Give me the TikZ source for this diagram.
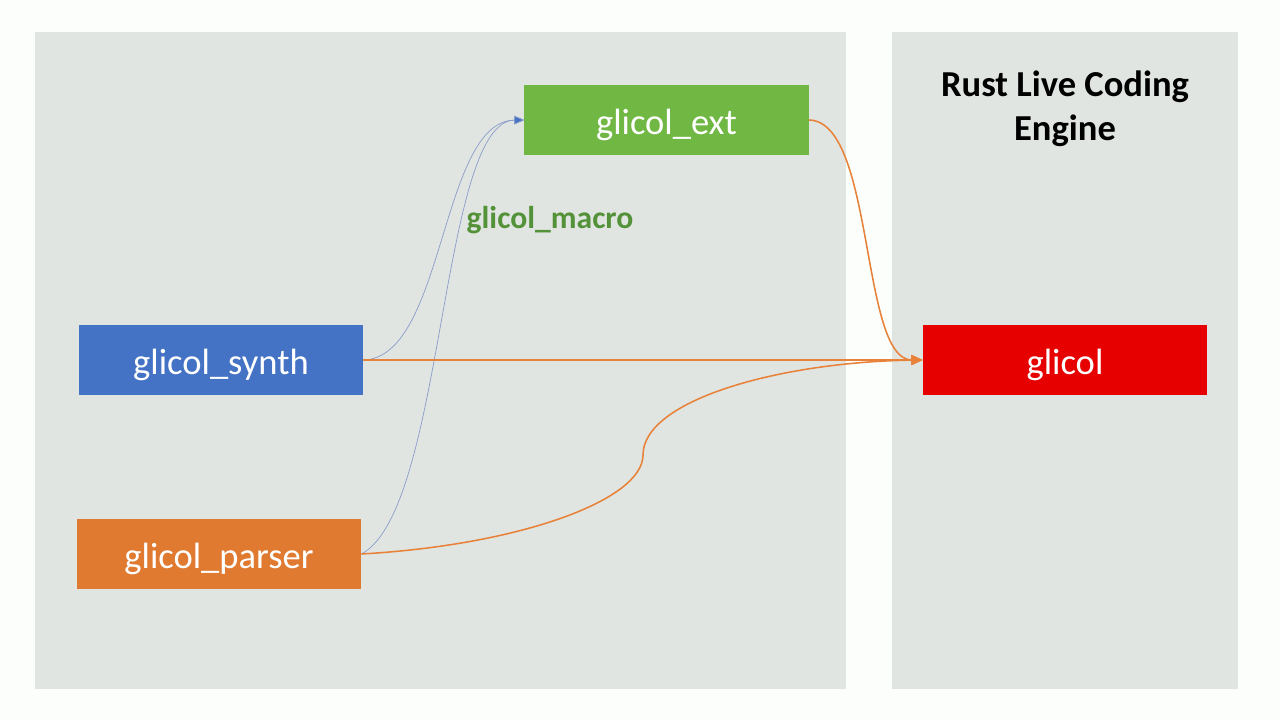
\documentclass[tikz,border=0pt]{standalone}
\usepackage{fontspec}
\setmainfont{Carlito}
\usetikzlibrary{shapes,arrows,arrows.meta,positioning,calc}

\definecolor{pagebg}{HTML}{FBFEFB}
\definecolor{panelbg}{HTML}{E1E5E1}
\definecolor{extgreen}{HTML}{70B843}
\definecolor{synthblue}{HTML}{4472C4}
\definecolor{parserorange}{HTML}{E07A30}
\definecolor{glicolred}{HTML}{E60000}
\definecolor{macrogreen}{HTML}{54923A}
\definecolor{linkorange}{HTML}{E8823A}
\definecolor{linkblue}{HTML}{8A9CCB}
\definecolor{tipblue}{HTML}{4472C4}

\begin{document}
\begin{tikzpicture}[
    x=0.025cm, y=-0.025cm,
    crate/.style={rectangle, inner sep=0pt, minimum width=7.1cm, minimum height=1.75cm, text=white, text height=22pt, text depth=2pt, font=\fontsize{26}{31}\selectfont},
    panel/.style={fill=panelbg, draw=none},
    uses/.style={-{Triangle[length=8pt,width=7pt]}, draw=linkorange, line width=1.1pt},
    derives/.style={-{Triangle[length=7pt,width=6pt,fill=tipblue]}, draw=linkblue, line width=0.5pt}
]

% page and the two panels
\fill[pagebg] (0,0) rectangle (1280,720);
\useasboundingbox (0,0) rectangle (1280,720);
\fill[panel] (35,32) rectangle (846,689);
\fill[panel] (892,32) rectangle (1238,689);

% crates
\node[crate, fill=extgreen] (glicol_ext) at (666.5,120) {glicol\_ext};
\node[crate, fill=synthblue] (glicol_synth) at (221,360) {glicol\_synth};
\node[crate, fill=parserorange] (glicol_parser) at (219,554) {glicol\_parser};
\node[crate, fill=glicolred] (glicol) at (1065,360) {glicol};

% labels
\node[font=\fontsize{22.5}{26}\selectfont\bfseries, text=macrogreen] (macro_label) at (550,220) {glicol\_macro};
\node[font=\fontsize{26}{31}\selectfont\bfseries, align=center] (engine_title) at (1065,109) {Rust Live Coding\\Engine};

% blue links into glicol_ext
\draw[derives] (glicol_synth.east) .. controls (445,358) and (440,121) .. (glicol_ext.west);
\draw[derives] (glicol_parser.east) .. controls (445,510) and (440,121) .. (glicol_ext.west);

% orange links into glicol
\draw[uses] (glicol_synth.east) -- (glicol.west);
\draw[uses] (glicol_ext.east) .. controls (875,121) and (860,360) .. (glicol.west);
\draw[uses] (glicol_parser.east) .. controls (520,545) and (643,500) .. (643,455)
    .. controls (643,400) and (780,362) .. (glicol.west);

\end{tikzpicture}
\end{document}
